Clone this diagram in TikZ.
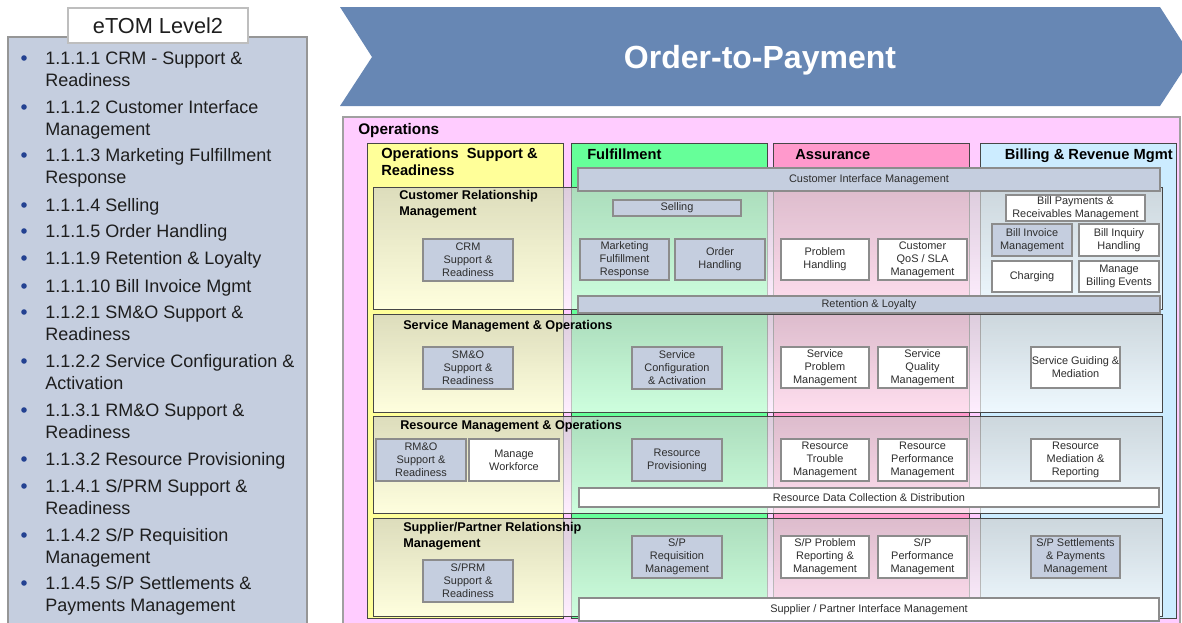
\documentclass[tikz,border=0pt]{standalone}
\usepackage{fontspec}
\setmainfont{Liberation Sans}
\definecolor{panelblue}{RGB}{197,206,223}
\definecolor{panelline}{RGB}{150,150,150}
\definecolor{tabline}{RGB}{190,190,190}
\definecolor{chevblue}{RGB}{103,135,180}
\definecolor{opspink}{RGB}{255,204,255}
\definecolor{opsline}{RGB}{160,160,160}
\definecolor{colyellow}{RGB}{255,255,153}
\definecolor{colgreen}{RGB}{102,255,153}
\definecolor{colpink}{RGB}{255,153,204}
\definecolor{colblue}{RGB}{204,236,255}
\definecolor{boxblue}{RGB}{197,206,223}
\definecolor{boxline}{RGB}{140,140,140}
\definecolor{boxtext}{RGB}{45,45,45}
\definecolor{rowline}{RGB}{70,70,70}
\definecolor{rowtop}{RGB}{205,205,205}
\definecolor{bulletc}{RGB}{35,65,145}
\definecolor{itemtext}{RGB}{30,30,30}
\newcommand\mybox[7]{\node[#1, minimum width={(#5-#3)*0.75pt}, minimum height={(#6-#4)*0.75pt}] (#2) at ({(#3+#5)/2},{(#4+#6)/2}) {#7};}
\begin{document}
\begin{tikzpicture}[x=0.75pt,y=-0.75pt,
 gbox/.style={draw=boxline, fill=boxblue, line width=0.8pt, inner sep=0pt, align=center, text=boxtext, font=\fontsize{8.2}{9.75}\selectfont},
 wbox/.style={gbox, fill=white},
 tabbox/.style={draw=tabline, fill=white, line width=0.8pt, inner sep=0pt, font=\fontsize{16.3}{18}\selectfont, text=itemtext},
 coltitle/.style={font=\fontsize{11}{12.75}\selectfont\bfseries, align=left, inner sep=0pt, anchor=base west},
 rowtitle/.style={font=\fontsize{9.5}{12}\selectfont\bfseries, align=left, inner sep=0pt, anchor=base west},
 item/.style={font=\fontsize{13.5}{16.5}\selectfont, align=left, inner sep=0pt, anchor=base west, text=itemtext},
 colbox/.style={draw=rowline, line width=0.75pt},
 rowshade/.style={top color=rowtop, bottom color=white, fill opacity=0.68},
 rowframe/.style={draw=rowline, line width=0.75pt},
]
\useasboundingbox (0,0) rectangle (1182,622);

% ---------- left panel ----------
\draw[draw=panelline, fill=panelblue, line width=0.8pt] (8,37) rectangle (307,640);
\mybox{tabbox}{tab}{68}{8}{248}{43}{eTOM Level2}
\foreach \yy in {58,107,155,205,231,258,286,312,361,410,459,486,535,583}
  \fill[bulletc] (24,\yy) circle (2.8);
% (anchor base = baseline of the last line)
\node[item] (i1) at (45,86.5) {1.1.1.1 CRM - Support \&\\Readiness};
\node[item] (i2) at (45,135.5) {1.1.1.2 Customer Interface\\Management};
\node[item] (i3) at (45,183.5) {1.1.1.3 Marketing Fulfillment\\Response};
\node[item] (i4) at (45,211.5) {1.1.1.4 Selling};
\node[item] (i5) at (45,237.5) {1.1.1.5 Order Handling};
\node[item] (i6) at (45,264.5) {1.1.1.9 Retention \& Loyalty};
\node[item] (i7) at (45,292.5) {1.1.1.10 Bill Invoice Mgmt};
\node[item] (i8) at (45,340.5) {1.1.2.1 SM\&O Support \&\\Readiness};
\node[item] (i9) at (45,389.5) {1.1.2.2 Service Configuration \&\\Activation};
\node[item] (i10) at (45,438.5) {1.1.3.1 RM\&O Support \&\\Readiness};
\node[item] (i11) at (45,465.5) {1.1.3.2 Resource Provisioning};
\node[item] (i12) at (45,514.5) {1.1.4.1 S/PRM Support \&\\Readiness};
\node[item] (i13) at (45,563.5) {1.1.4.2 S/P Requisition\\Management};
\node[item] (i14) at (45,611.5) {1.1.4.5 S/P Settlements \&\\Payments Management};

% ---------- chevron ----------
\fill[chevblue] (340,7) -- (1160,7) -- (1192,57) -- (1160,106) -- (340,106) -- (372,57) -- cycle;
\node[font=\fontsize{24}{27}\selectfont\bfseries, text=white, anchor=base] (title) at (760,68) {Order-to-Payment};

% ---------- operations ----------
\draw[draw=opsline, fill=opspink, line width=0.8pt] (343,117) rectangle (1180,640);
\node[coltitle, font=\fontsize{11.5}{13}\selectfont\bfseries] (ops) at (358,134.5) {Operations};

\draw[colbox, fill=colyellow] (367,143) rectangle (563,618);
\draw[colbox, fill=colgreen] (571,143) rectangle (767,618);
\draw[colbox, fill=colpink] (773,143) rectangle (969,618);
\draw[colbox, fill=colblue] (980,143) rectangle (1176,618);
\node[coltitle] (osr) at (381,175.5) {Operations\ \ Support \&\\Readiness};
\node[coltitle] (ful) at (587,159) {Fulfillment};
\node[coltitle] (ass) at (795,159) {Assurance};
\node[coltitle, anchor=base east] (brm) at (1173,159) {Billing \& Revenue Mgmt};

% ---------- rows ----------
\shade[rowshade] (373,187) rectangle (1162,309);
\draw[rowframe] (373,187) rectangle (1162,309);
\shade[rowshade] (373,314) rectangle (1162,412);
\draw[rowframe] (373,314) rectangle (1162,412);
\shade[rowshade] (373,416) rectangle (1162,513);
\draw[rowframe] (373,416) rectangle (1162,513);
\shade[rowshade] (373,518) rectangle (1162,616);
\draw[rowframe] (373,518) rectangle (1162,616);

\node[rowtitle] (crm) at (399,215.5) {Customer Relationship\\Management};
\node[rowtitle] (smo) at (403,329.5) {Service Management \& Operations};
\node[rowtitle] (rmo) at (400,429.5) {Resource Management \& Operations};
\node[rowtitle] (sprm) at (403,547.5) {Supplier/Partner Relationship\\Management};

% ---------- CRM row ----------
\mybox{gbox}{cim}{578}{168}{1160}{191}{Customer Interface Management}
\mybox{gbox}{sell}{613}{200}{741}{216}{Selling}
\mybox{gbox}{crmsr}{423}{239}{513}{281}{CRM\\Support \&\\Readiness}
\mybox{gbox}{mfr}{580}{239}{669}{280}{Marketing\\Fulfillment\\Response}
\mybox{gbox}{oh}{675}{239}{765}{280}{Order\\Handling}
\mybox{wbox}{ph}{781}{239}{869}{280}{Problem\\Handling}
\mybox{wbox}{qos}{878}{239}{967}{280}{Customer\\QoS / SLA\\Management}
\mybox{wbox}{bpr}{1006}{195}{1145}{221}{Bill Payments \&\\Receivables Management}
\mybox{gbox}{bim}{992}{224}{1072}{256}{Bill Invoice\\Management}
\mybox{wbox}{bih}{1079}{224}{1159}{256}{Bill Inquiry\\Handling}
\mybox{wbox}{chg}{992}{261}{1072}{292}{Charging}
\mybox{wbox}{mbe}{1079}{261}{1159}{292}{Manage\\Billing Events}
\mybox{gbox}{rl}{578}{296}{1160}{313}{Retention \& Loyalty}

% ---------- Service row ----------
\mybox{gbox}{smosr}{423}{347}{513}{389}{SM\&O\\Support \&\\Readiness}
\mybox{gbox}{sca}{632}{347}{722}{389}{Service\\Configuration\\\& Activation}
\mybox{wbox}{spm}{781}{347}{869}{388}{Service\\Problem\\Management}
\mybox{wbox}{sqm}{878}{347}{967}{388}{Service\\Quality\\Management}
\mybox{wbox}{sgm}{1031}{347}{1120}{388}{Service Guiding \&\\Mediation}

% ---------- Resource row ----------
\mybox{gbox}{rmosr}{376}{439}{466}{481}{RM\&O\\Support \&\\Readiness}
\mybox{wbox}{mwf}{469}{439}{559}{481}{Manage\\Workforce}
\mybox{gbox}{rp}{632}{439}{722}{481}{Resource\\Provisioning}
\mybox{wbox}{rtm}{781}{439}{869}{481}{Resource\\Trouble\\Management}
\mybox{wbox}{rpm}{878}{439}{967}{481}{Resource\\Performance\\Management}
\mybox{wbox}{rmr}{1031}{439}{1120}{481}{Resource\\Mediation \&\\Reporting}
\mybox{wbox}{rdcd}{579}{488}{1159}{507}{Resource Data Collection \& Distribution}

% ---------- S/P row ----------
\mybox{gbox}{sprmsr}{423}{560}{513}{602}{S/PRM\\Support \&\\Readiness}
\mybox{gbox}{sprq}{632}{536}{722}{578}{S/P\\Requisition\\Management}
\mybox{wbox}{spprm}{781}{536}{869}{578}{S/P Problem\\Reporting \&\\Management}
\mybox{wbox}{sppm}{878}{536}{967}{578}{S/P\\Performance\\Management}
\mybox{gbox}{spsp}{1031}{536}{1120}{578}{S/P Settlements\\\& Payments\\Management}
\mybox{wbox}{spim}{579}{598}{1159}{621}{Supplier / Partner Interface Management}
\end{tikzpicture}
\end{document}
